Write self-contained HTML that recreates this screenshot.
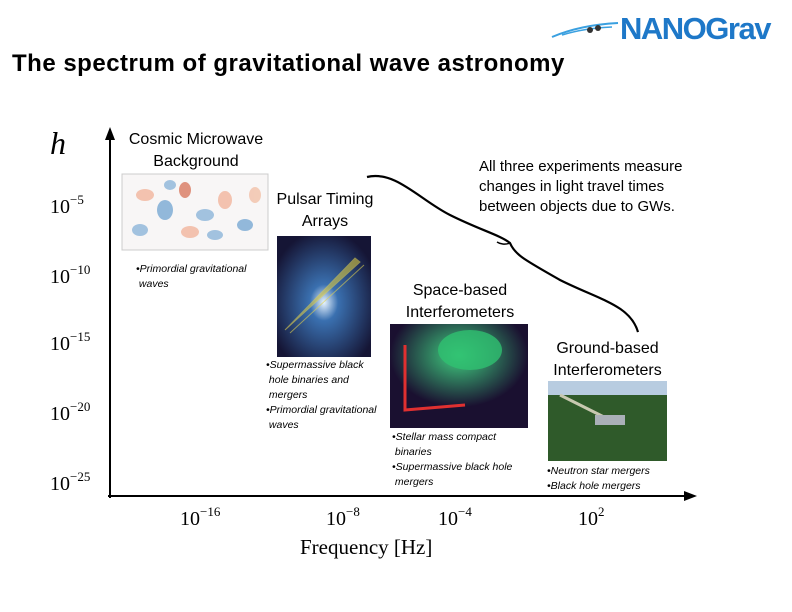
<!DOCTYPE html>
<html><head><meta charset="utf-8"><style>
body{margin:0;width:792px;height:612px;background:#fff;position:relative;overflow:hidden;font-family:"Liberation Sans",sans-serif;color:#000}
.a{position:absolute}
.t{font-size:16px;text-align:center;line-height:22px}
.b{font-size:10.5px;font-style:italic;line-height:15px}
.m{font-family:"Liberation Serif",serif;font-size:20px}
.m sup{font-size:13px;vertical-align:9px}
</style></head><body>
<div class="a" style="left:12px;top:50px;font-size:24px;font-weight:bold;letter-spacing:0.5px;white-space:nowrap">The spectrum of gravitational wave astronomy</div>
<div class="a" style="left:620px;top:11px;font-size:31px;font-weight:bold;color:#1e78c8;letter-spacing:-1.5px">NANOGrav</div>
<svg class="a" style="left:550px;top:15px" width="70" height="25"><path d="M2 22 Q30 10 68 8" stroke="#3aa0e0" stroke-width="2" fill="none"/><path d="M12 20 Q35 13 62 12" stroke="#3aa0e0" stroke-width="1.5" fill="none"/><circle cx="40" cy="15" r="3" fill="#333"/><circle cx="48" cy="13" r="3" fill="#333"/></svg>
<svg class="a" style="left:0;top:0" width="792" height="612">
<line x1="110" y1="498" x2="110" y2="136" stroke="#000" stroke-width="2"/>
<path d="M105 140 L110 127 L115 140 Z" fill="#000"/>
<line x1="108" y1="496" x2="688" y2="496" stroke="#000" stroke-width="2"/>
<path d="M684 491 L697 496 L684 501 Z" fill="#000"/>
<path d="M367 177 C395 170 420 200 450 215 C480 230 500 235 510 243 C515 255 525 260 560 280 C600 300 630 305 638 332" stroke="#000" stroke-width="2.2" fill="none"/>
<path d="M510 243 C505 245 500 244 497 242" stroke="#000" stroke-width="1.5" fill="none"/>
<defs>
<radialGradient id="p" cx="0.5" cy="0.55" r="0.6"><stop offset="0" stop-color="#e8f4ff"/><stop offset="0.25" stop-color="#3a70b0"/><stop offset="1" stop-color="#151535"/></radialGradient>
<radialGradient id="s" cx="0.5" cy="0.3" r="0.5"><stop offset="0" stop-color="#40d080"/><stop offset="1" stop-color="#1a1030"/></radialGradient>
</defs>
<rect x="122" y="174" width="146" height="76" fill="#f8f6f6" stroke="#ccc"/>
<g opacity="0.6"><ellipse cx="145" cy="195" rx="9" ry="6" fill="#f0a080"/><ellipse cx="165" cy="210" rx="8" ry="10" fill="#5090c8"/><ellipse cx="185" cy="190" rx="6" ry="8" fill="#d05030"/><ellipse cx="205" cy="215" rx="9" ry="6" fill="#6aa0d0"/><ellipse cx="225" cy="200" rx="7" ry="9" fill="#f0a080"/><ellipse cx="245" cy="225" rx="8" ry="6" fill="#5090c8"/><ellipse cx="140" cy="230" rx="8" ry="6" fill="#6aa0d0"/><ellipse cx="190" cy="232" rx="9" ry="6" fill="#f0a080"/><ellipse cx="255" cy="195" rx="6" ry="8" fill="#f0b090"/><ellipse cx="215" cy="235" rx="8" ry="5" fill="#6aa0d0"/><ellipse cx="170" cy="185" rx="6" ry="5" fill="#6aa0d0"/></g>
<rect x="277" y="236" width="94" height="121" fill="url(#p)"/>
<path d="M285 330 L360 262 L355 258 Z M290 333 L364 265" stroke="#e0d050" fill="#d8c840" opacity="0.6"/>
<rect x="390" y="324" width="138" height="104" fill="url(#s)"/>
<ellipse cx="470" cy="350" rx="32" ry="20" fill="#30c070" opacity="0.8"/>
<path d="M405 345 L405 410 L465 405" stroke="#e03030" stroke-width="3" fill="none"/>
<rect x="548" y="381" width="119" height="80" fill="#2f5a2a"/>
<rect x="548" y="381" width="119" height="14" fill="#b8cce0"/>
<path d="M560 395 L610 420" stroke="#c8c8b0" stroke-width="3"/>
<rect x="595" y="415" width="30" height="10" fill="#aab0b8"/>
</svg>
<div class="a" style="left:50px;top:125px;font-family:'Liberation Serif',serif;font-style:italic;font-size:32px">h</div>
<div class="a m" style="left:50px;top:192px">10<sup>−5</sup></div>
<div class="a m" style="left:50px;top:262px">10<sup>−10</sup></div>
<div class="a m" style="left:50px;top:329px">10<sup>−15</sup></div>
<div class="a m" style="left:50px;top:399px">10<sup>−20</sup></div>
<div class="a m" style="left:50px;top:469px">10<sup>−25</sup></div>
<div class="a m" style="left:180px;top:504px">10<sup>−16</sup></div>
<div class="a m" style="left:326px;top:504px">10<sup>−8</sup></div>
<div class="a m" style="left:438px;top:504px">10<sup>−4</sup></div>
<div class="a m" style="left:578px;top:504px">10<sup>2</sup></div>
<div class="a" style="left:300px;top:535px;font-family:'Liberation Serif',serif;font-size:21px">Frequency [Hz]</div>
<div class="a t" style="left:110px;top:129px;width:172px">Cosmic Microwave<br>Background</div>
<div class="a t" style="left:260px;top:189px;width:130px">Pulsar Timing<br>Arrays</div>
<div class="a t" style="left:380px;top:280px;width:160px">Space-based<br>Interferometers</div>
<div class="a t" style="left:530px;top:338px;width:155px">Ground-based<br>Interferometers</div>
<div class="a" style="left:479px;top:157px;font-size:15px;line-height:20px">All three experiments measure<br>changes in light travel times<br>between objects due to GWs.</div>
<div class="a b" style="left:136px;top:262px">•Primordial gravitational<br>&nbsp;waves</div>
<div class="a b" style="left:266px;top:358px">•Supermassive black<br>&nbsp;hole binaries and<br>&nbsp;mergers<br>•Primordial gravitational<br>&nbsp;waves</div>
<div class="a b" style="left:392px;top:430px">•Stellar mass compact<br>&nbsp;binaries<br>•Supermassive black hole<br>&nbsp;mergers</div>
<div class="a b" style="left:547px;top:464px">•Neutron star mergers<br>•Black hole mergers</div>
</body></html>
